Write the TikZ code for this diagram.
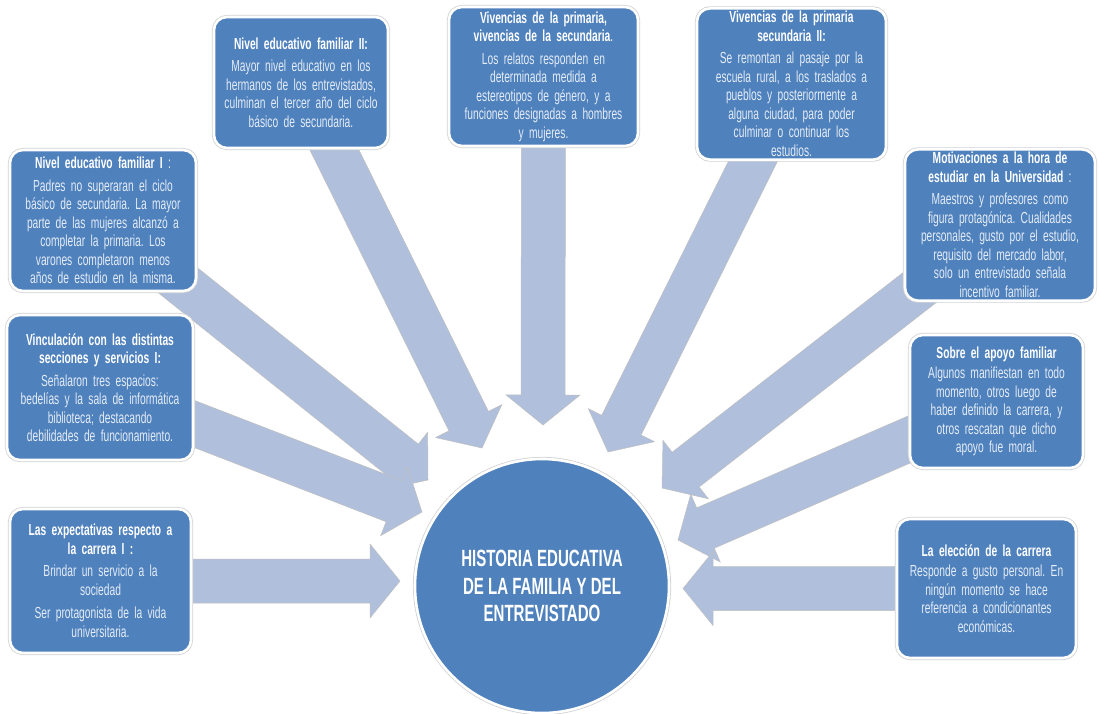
\documentclass[tikz,border=0pt]{standalone}
\usepackage{fontspec}
\setmainfont{Liberation Sans}[FakeStretch=0.64]
\frenchspacing
\usetikzlibrary{calc,backgrounds}
\definecolor{boxblue}{RGB}{79,129,189}
\definecolor{arrowblue}{RGB}{176,192,220}
\definecolor{bodytext}{RGB}{228,236,246}
\tikzset{
  infobox/.style={rounded corners=13pt, fill=boxblue, draw=white, line width=2.6pt,
    preaction={draw=gray!35, line width=4.2pt}, text=white, align=center,
    font=\fontsize{16}{18.5}\selectfont, inner sep=3pt},
  hub/.style={circle, fill=boxblue, draw=white, line width=2.6pt,
    preaction={draw=gray!35, line width=4.2pt}, minimum size=254pt, text=white,
    align=center, font=\bfseries\fontsize{23.5}{27.5}\selectfont},
  arrowbody/.style={fill=arrowblue, draw=gray!50, line width=0.5pt, line join=miter}
}
% broad block arrow from a box to a free tip
\newcommand{\fatarrow}[2]{%
  \path ($(#2)!30pt!(#1)$) coordinate (hb);
  \draw[arrowbody] ($(#1)!22pt!90:(#2)$) -- ($(hb)!22pt!90:(#2)$) -- ($(hb)!37pt!90:(#2)$)
    -- (#2) -- ($(hb)!37pt!-90:(#2)$) -- ($(hb)!22pt!-90:(#2)$) -- ($(#1)!22pt!-90:(#2)$) -- cycle;}
\begin{document}
\begin{tikzpicture}[x=1pt,y=-1pt]
\useasboundingbox (0,0) rectangle (1099,713);

\node[hub] (hist) at (542,586) {HISTORIA EDUCATIVA\\DE LA FAMILIA Y DEL\\ENTREVISTADO};

\node[infobox, text width=180pt, minimum height=141pt] (nivA) at (103,220.5)
  {\textbf{Nivel educativo familiar I} :\\[4pt]\color{bodytext}Padres no superaran el ciclo\\básico de secundaria. La mayor\\parte de las mujeres alcanzó a\\completar la primaria. Los\\varones completaron menos\\años de estudio en la misma.};
\node[infobox, text width=168pt, minimum height=131pt] (nivB) at (301,82.5)
  {\textbf{Nivel educativo familiar II:}\\[4pt]\color{bodytext}Mayor nivel educativo en los\\hermanos de los entrevistados,\\culminan el tercer año del ciclo\\básico de secundaria.};
\node[infobox, text width=183pt, minimum height=139pt] (vivA) at (543.5,76.5)
  {\textbf{Vivencias de la primaria,}\\\textbf{vivencias de la secundaria}.\\[4pt]\color{bodytext}Los relatos responden en\\determinada medida a\\estereotipos de género, y a\\funciones designadas a hombres\\y mujeres.};
\node[infobox, text width=183pt, minimum height=148pt] (vivB) at (791.5,84)
  {\textbf{Vivencias de la primaria}\\\textbf{secundaria II:}\\[4pt]\color{bodytext}Se remontan al pasaje por la\\escuela rural, a los traslados a\\pueblos y posteriormente a\\alguna ciudad, para poder\\culminar o continuar los\\estudios.};
\node[infobox, text width=184pt, minimum height=146pt] (moti) at (1000,225)
  {\textbf{Motivaciones a la hora de}\\\textbf{estudiar en la Universidad} :\\[4pt]\color{bodytext}Maestros y profesores como\\figura protagónica. Cualidades\\personales, gusto por el estudio,\\requisito del mercado labor,\\solo un entrevistado señala\\incentivo familiar.};
\node[infobox, text width=167pt, minimum height=133pt] (apoyo) at (996.5,401.5)
  {\textbf{Sobre el apoyo familiar}\\[2pt]\color{bodytext}Algunos manifiestan en todo\\momento, otros luego de\\haber definido la carrera, y\\otros rescatan que dicho\\apoyo fue moral.};
\node[infobox, text width=173pt, minimum height=139pt] (elec) at (986.5,588.5)
  {\textbf{La elección de la carrera}\\[2pt]\color{bodytext}Responde a gusto personal. En\\ningún momento se hace\\referencia a condicionantes\\económicas.};
\node[infobox, text width=175pt, minimum height=144pt] (expe) at (100.5,581)
  {\textbf{Las expectativas respecto a}\\\textbf{la carrera I :}\\[4pt]\color{bodytext}Brindar un servicio a la\\sociedad\\[5pt]Ser protagonista de la vida\\universitaria.};
\node[infobox, text width=180pt, minimum height=145pt] (vinc) at (100,387.5)
  {\textbf{Vinculación con las distintas}\\\textbf{secciones y servicios I:}\\[4pt]\color{bodytext}Señalaron tres espacios:\\bedelías y la sala de informática\\biblioteca; destacando\\debilidades de funcionamiento.};

\begin{scope}[on background layer]
\coordinate (tnivA) at (428,480);
\coordinate (tnivB) at (482,448);
\coordinate (tvivA) at (543,425);
\coordinate (tvivB) at (608,452);
\coordinate (tmoti) at (662,488);
\coordinate (tapoyo) at (678,540);
\coordinate (telec) at (683,588.5);
\coordinate (texpe) at (400,581);
\coordinate (tvinc) at (422,512);
\fatarrow{nivA.center}{tnivA}
\fatarrow{nivB.center}{tnivB}
\fatarrow{vivA.center}{tvivA}
\fatarrow{vivB.center}{tvivB}
\fatarrow{moti.center}{tmoti}
\fatarrow{apoyo.center}{tapoyo}
\fatarrow{elec.center}{telec}
\fatarrow{expe.center}{texpe}
\fatarrow{vinc.center}{tvinc}
\end{scope}
\end{tikzpicture}
\end{document}
